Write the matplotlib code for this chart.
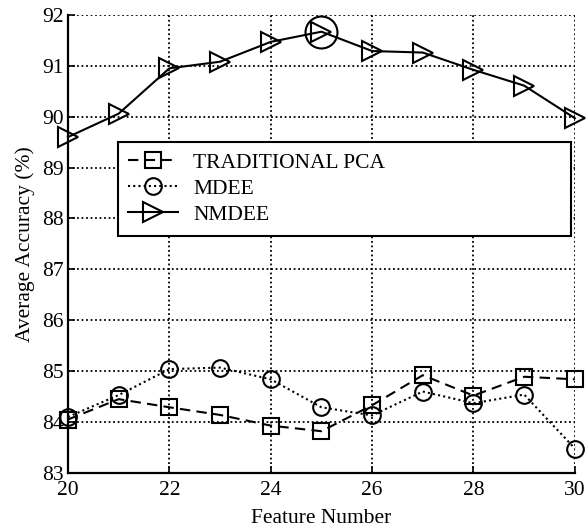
import matplotlib
matplotlib.use("Agg")
import matplotlib.pyplot as plt

plt.rcParams['font.family'] = ['Liberation Serif', 'DejaVu Serif']
plt.rcParams['mathtext.fontset'] = 'stix'

feature_number = [20, 21, 22, 23, 24, 25, 26, 27, 28, 29, 30]
traditional_pca = [84.05, 84.45, 84.29, 84.14, 83.93, 83.82, 84.33, 84.92, 84.52, 84.89, 84.84]
mdee = [84.10, 84.53, 85.04, 85.07, 84.84, 84.29, 84.13, 84.60, 84.37, 84.54, 83.48]
nmdee = [89.60, 90.06, 90.95, 91.08, 91.47, 91.67, 91.29, 91.26, 90.92, 90.61, 89.97]
best_index = 5

xticks = [20, 22, 24, 26, 28, 30]
yticks = [83, 84, 85, 86, 87, 88, 89, 90, 91, 92]

FS = 15.5

fig = plt.figure(figsize=(5.86, 5.32), dpi=100)
ax = fig.add_axes([0.116, 0.111, 0.865, 0.861])

common = dict(color='black', lw=1.5, markerfacecolor='none', markeredgecolor='black',
              markeredgewidth=1.5, clip_on=False, zorder=3)
ax.plot(feature_number, traditional_pca, linestyle=(0, (5, 3)), marker='s',
        markersize=11, label='TRADITIONAL PCA', **common)
ax.plot(feature_number, mdee, linestyle=(0, (1, 1.5)), marker='o',
        markersize=12, label='MDEE', **common)
ax.plot(feature_number, nmdee, linestyle='-', marker='>',
        markersize=14, label='NMDEE', **common)

# highlight the best NMDEE result
ax.plot(feature_number[best_index], nmdee[best_index], linestyle='none', marker='o',
        markersize=23, markerfacecolor='none', markeredgecolor='black',
        markeredgewidth=1.5, clip_on=False, zorder=4)

ax.set_xlim(20, 30)
ax.set_ylim(83, 92)
ax.set_xticks(xticks)
ax.set_yticks(yticks)
ax.tick_params(direction='in', length=5, width=1.2, labelsize=FS,
               top=False, right=False)
ax.tick_params(axis='x', pad=6)
ax.tick_params(axis='y', pad=3)
ax.grid(True, linestyle=(0, (1, 1.5)), color='black', linewidth=1.3)
ax.set_axisbelow(True)
for side in ['top', 'right']:
    ax.spines[side].set_visible(False)
for side in ['left', 'bottom']:
    ax.spines[side].set_linewidth(1.6)

ax.set_xlabel('Feature Number', fontsize=FS, labelpad=6)
ax.set_ylabel('Average Accuracy (%)', fontsize=FS, labelpad=5)

leg = ax.legend(loc='upper left', bbox_to_anchor=(0.098, 0.522, 0.894, 0.201),
                mode='expand', fontsize=FS, handlelength=2.3, handletextpad=0.7,
                borderpad=0.5, labelspacing=0.28, fancybox=False, framealpha=1,
                edgecolor='black', borderaxespad=0)
leg.get_frame().set_linewidth(1.5)
leg.set_zorder(5)

fig.savefig('out.png', dpi=100)
